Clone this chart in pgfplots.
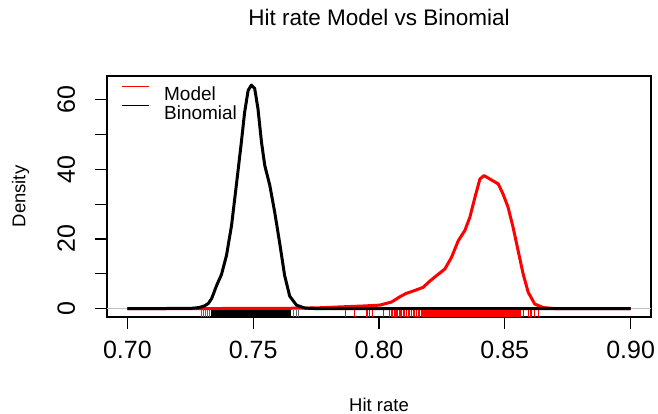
\documentclass[border=0pt]{standalone}
\usepackage{fontspec}
\setmainfont{Liberation Sans}
\usepackage{pgfplots}
\pgfplotsset{compat=1.18}
\definecolor{rgray}{RGB}{190,190,190}
\definecolor{rred}{RGB}{255,0,0}
\newcommand{\tickfont}{\fontsize{25bp}{27bp}\selectfont}
\newcommand{\labfont}{\fontsize{18.5bp}{20bp}\selectfont}

\begin{document}
\begin{tikzpicture}
\path[use as bounding box] (-107bp,-97bp) rectangle (551bp,317bp);
\begin{axis}[
  at={(0,0)}, anchor=south west,
  scale only axis, width=544bp, height=241bp,
  xmin=0.6919, xmax=0.9081, ymin=-2.41, ymax=66.8,
  axis line style={line width=1.1bp},
  tick style={line width=1.1bp, black},
  tick align=outside, major tick length=12bp,
  xtick pos=bottom, ytick pos=left,
  xtick={0.70,0.75,0.80,0.85,0.90},
  xticklabels={0.70,0.75,0.80,0.85,0.90},
  ytick={0,10,20,30,40,50,60},
  yticklabels={0,,20,,40,,60},
  ticklabel style={font=\tickfont, inner sep=0pt},
  xticklabel style={anchor=base},
  yticklabel style={rotate=90, anchor=base},
  xticklabel shift=29bp, yticklabel shift=20bp,
  title={Hit rate Model vs Binomial},
  title style={at={(axis description cs:0.5,1)}, anchor=base, yshift=44.3bp,
    font=\fontsize{22.5bp}{24bp}\selectfont, inner sep=0pt},
  xlabel={Hit rate},
  xlabel style={at={(axis description cs:0.5,0)}, anchor=base, yshift=-94bp,
    font=\labfont, inner sep=0pt},
  ylabel={Density},
  ylabel style={at={(axis description cs:-0.15,0.5)}, anchor=base,
    font=\labfont, inner sep=0pt},
  legend style={at={(axis description cs:0.0252,0.96)}, anchor=north west,
    draw=none, fill=none, inner sep=0pt, row sep=4.5bp,
    font=\fontsize{19bp}{21bp}\selectfont,
    nodes={inner sep=0pt, text height=13.6bp, text depth=0pt},
    /tikz/every odd column/.style={column sep=14bp}},
  legend cell align=left,
  legend image code/.code={\draw[#1, line width=1.6bp] (0bp,6.8bp) -- (27.6bp,6.8bp);},
  clip=true,
]
% zero line
\addplot[rgray, line width=0.8bp, forget plot] coordinates {(0.6919,0)(0.9081,0)};

% Model density
\addplot[rred, line width=3bp, line join=round] coordinates {
  (0.700,0)(0.760,0.05)(0.775,0.2)(0.785,0.5)(0.7937,0.75)(0.8003,1.0)
  (0.8050,1.9)(0.8083,3.4)(0.8109,4.4)(0.8142,5.2)(0.8175,6.1)(0.8202,7.9)
  (0.8229,9.5)(0.8262,11.4)(0.8288,14.7)(0.8315,19.5)(0.8341,22.4)(0.8361,26.2)
  (0.8381,31.9)(0.8401,37.2)(0.8417,38.2)(0.8441,37.2)(0.8474,35.8)(0.8493,32.9)
  (0.8513,29.1)(0.8533,23.3)(0.8553,16.6)(0.8573,9.9)(0.8593,4.7)(0.8619,1.3)
  (0.8653,0.3)(0.870,0)(0.900,0)};
\addlegendentry{Model}

% Binomial density
\addplot[black, line width=3bp, line join=round] coordinates {
  (0.700,0)(0.725,0.05)(0.7285,0.3)(0.7307,0.8)(0.7322,1.5)(0.7335,2.9)
  (0.7355,6.7)(0.7374,9.8)(0.7394,15.3)(0.7414,23.9)(0.7433,35.4)(0.7453,47.8)
  (0.7466,56.4)(0.7480,62.7)(0.7493,64.2)(0.7506,63.2)(0.7519,57.4)(0.7533,47.8)
  (0.7546,41.1)(0.7566,35.4)(0.7586,27.5)(0.7606,18.5)(0.7625,9.5)(0.7645,3.6)
  (0.7672,1.0)(0.7705,0.15)(0.775,0)(0.900,0)};
\addlegendentry{Binomial}

% rug: binomial
\addplot[only marks, mark=|, mark size=3.6bp, black, forget plot,
  mark options={draw=black, line width=3bp}] coordinates {
  (0.7340,-1.38)(0.7345,-1.38)(0.7355,-1.38)(0.7365,-1.38)(0.7375,-1.38)
  (0.7385,-1.38)(0.7395,-1.38)(0.7405,-1.38)(0.7415,-1.38)(0.7425,-1.38)
  (0.7435,-1.38)(0.7445,-1.38)(0.7455,-1.38)(0.7465,-1.38)(0.7475,-1.38)
  (0.7485,-1.38)(0.7495,-1.38)(0.7505,-1.38)(0.7515,-1.38)(0.7525,-1.38)
  (0.7535,-1.38)(0.7545,-1.38)(0.7555,-1.38)(0.7565,-1.38)(0.7575,-1.38)
  (0.7585,-1.38)(0.7595,-1.38)(0.7605,-1.38)(0.7615,-1.38)(0.7625,-1.38)
  (0.7635,-1.38)(0.7645,-1.38)};
\addplot[only marks, mark=|, mark size=3.6bp, black!60, forget plot,
  mark options={draw=black!60, line width=0.9bp}] coordinates {
  (0.7293,-1.38)(0.7302,-1.38)(0.7310,-1.38)(0.7320,-1.38)(0.7328,-1.38)
  (0.7659,-1.38)(0.7670,-1.38)(0.7679,-1.38)};

% rug: model
\addplot[only marks, mark=|, mark size=3.6bp, rred, forget plot,
  mark options={draw=rred, line width=3bp}] coordinates {
  (0.818,-1.38)(0.819,-1.38)(0.820,-1.38)(0.821,-1.38)(0.822,-1.38)
  (0.823,-1.38)(0.824,-1.38)(0.825,-1.38)(0.826,-1.38)(0.827,-1.38)
  (0.828,-1.38)(0.829,-1.38)(0.830,-1.38)(0.831,-1.38)(0.832,-1.38)
  (0.833,-1.38)(0.834,-1.38)(0.835,-1.38)(0.836,-1.38)(0.837,-1.38)
  (0.838,-1.38)(0.839,-1.38)(0.840,-1.38)(0.841,-1.38)(0.842,-1.38)
  (0.843,-1.38)(0.844,-1.38)(0.845,-1.38)(0.846,-1.38)(0.847,-1.38)
  (0.848,-1.38)(0.849,-1.38)(0.850,-1.38)(0.851,-1.38)(0.852,-1.38)
  (0.853,-1.38)(0.854,-1.38)(0.855,-1.38)(0.856,-1.38)};
\addplot[only marks, mark=|, mark size=3.6bp, rred, forget plot,
  mark options={draw=rred, line width=0.9bp}] coordinates {
  (0.7868,-1.38)(0.7904,-1.38)(0.7950,-1.38)(0.7956,-1.38)(0.7962,-1.38)
  (0.7974,-1.38)(0.8016,-1.38)(0.8043,-1.38)(0.8048,-1.38)(0.8052,-1.38)
  (0.8060,-1.38)(0.8066,-1.38)(0.8070,-1.38)(0.8075,-1.38)(0.8080,-1.38)
  (0.8086,-1.38)(0.8090,-1.38)(0.8096,-1.38)(0.8103,-1.38)(0.8109,-1.38)
  (0.8116,-1.38)(0.8122,-1.38)(0.8128,-1.38)(0.8135,-1.38)(0.8142,-1.38)
  (0.8148,-1.38)(0.8155,-1.38)(0.8162,-1.38)(0.8168,-1.38)(0.8173,-1.38)
  (0.8573,-1.38)(0.8593,-1.38)(0.8600,-1.38)(0.8606,-1.38)(0.8619,-1.38)
  (0.8633,-1.38)};
\end{axis}
\end{tikzpicture}
\end{document}
